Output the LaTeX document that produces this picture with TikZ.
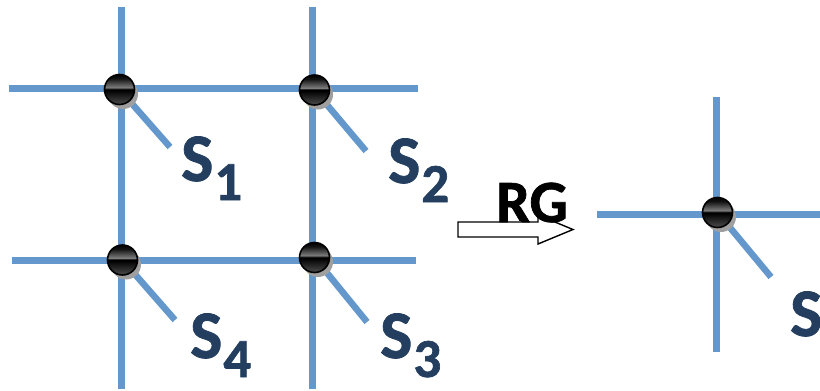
\documentclass[tikz,border=0pt]{standalone}
\usepackage{fontspec}
\setmainfont{Carlito}[BoldFeatures={FakeBold=1.2}]
\usetikzlibrary{shadows}
\definecolor{lineblue}{RGB}{100,152,204}
\definecolor{labelblue}{RGB}{35,62,95}
\pgfdeclareverticalshading{ballshade}{100bp}{color(0bp)=(black!70); color(25bp)=(black!70); color(49bp)=(black); color(51bp)=(black); color(53bp)=(black!50); color(68bp)=(black!92); color(75bp)=(black); color(100bp)=(black)}
\begin{document}
\begin{tikzpicture}[x=1pt,y=-1pt,
  gridline/.style={draw=lineblue, line width=6.5pt},
  ball/.style={circle, minimum size=30pt, inner sep=0pt, draw=black, line width=1.6pt,
    shading=ballshade,
    drop shadow={shadow xshift=3.5pt, shadow yshift=-4.5pt, fill=gray!75, opacity=1}},
  lbl/.style={text=labelblue, font=\bfseries\fontsize{68}{68}\selectfont, anchor=base west, inner sep=0pt},
  rglbl/.style={text=black, font=\bfseries\fontsize{60}{60}\selectfont, anchor=base, inner sep=0pt},
  arrowbox/.style={draw=black, fill=white, line width=1.4pt, line join=miter}
]
\useasboundingbox (0,0) rectangle (820,391);
\newcommand{\subx}[1]{\kern1pt\lower19pt\hbox{\fontsize{55}{55}\selectfont #1}}
% line ends
\coordinate (h1a) at (9,88.5);   \coordinate (h1b) at (418,88.5);
\coordinate (h2a) at (12,260.5); \coordinate (h2b) at (416,260.5);
\coordinate (v1a) at (121.5,7);  \coordinate (v1b) at (121.5,389);
\coordinate (v2a) at (312.5,7);  \coordinate (v2b) at (312.5,389);
\coordinate (h3a) at (597,214.5); \coordinate (h3b) at (820,214.5);
\coordinate (v3a) at (716.5,97);  \coordinate (v3b) at (716.5,352);
\coordinate (e1) at (170,147);
\coordinate (e2) at (366,151);
\coordinate (e3) at (367,322);
\coordinate (e4) at (175,320);
\coordinate (e5) at (771,277);
% ball centres
\coordinate (c1) at (119.5,89.5);
\coordinate (c2) at (314.5,90);
\coordinate (c3) at (314.5,257.5);
\coordinate (c4) at (122.5,260);
\coordinate (c5) at (717.5,212.5);
% grid lines
\draw[gridline] (h1a) -- (h1b);
\draw[gridline] (h2a) -- (h2b);
\draw[gridline] (v1a) -- (v1b);
\draw[gridline] (v2a) -- (v2b);
\draw[gridline] (h3a) -- (h3b);
\draw[gridline] (v3a) -- (v3b);
% spokes
\draw[gridline] (c1) -- (e1);
\draw[gridline] (c2) -- (e2);
\draw[gridline] (c3) -- (e3);
\draw[gridline] (c4) -- (e4);
\draw[gridline] (c5) -- (e5);
% balls
\node[ball] (n1) at (c1) {};
\node[ball] (n2) at (c2) {};
\node[ball] (n3) at (c3) {};
\node[ball] (n4) at (c4) {};
\node[ball] (n5) at (c5) {};
% labels
\node[lbl] (s1) at (181,181) {S\subx{1}};
\node[lbl] (s2) at (388,183) {S\subx{2}};
\node[lbl] (s3) at (380,358) {S\subx{3}};
\node[lbl] (s4) at (190,358) {S\subx{4}};
\node[lbl] (s5) at (790,336) {S};
% RG arrow
\draw[arrowbox] (458,222) -- (538,222) -- (538,215) -- (573,229.5) -- (538,244) -- (538,237) -- (458,237) -- cycle;
\node[rglbl] (rg) at (532,222) {RG};
\end{tikzpicture}
\end{document}
